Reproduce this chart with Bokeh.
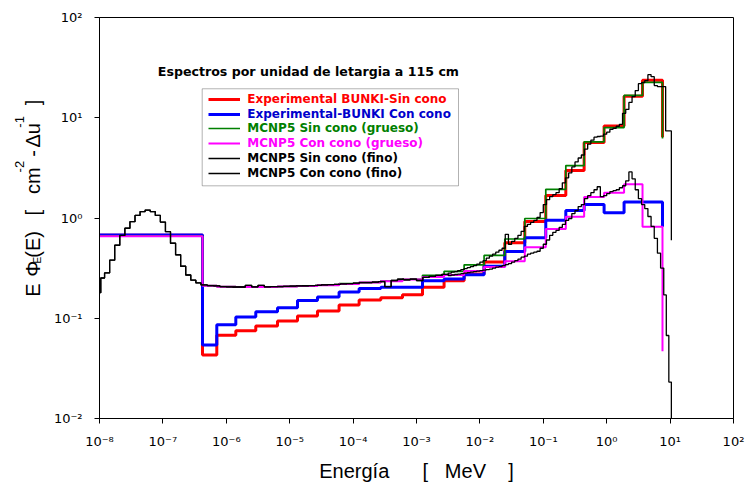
from bokeh.plotting import figure
from bokeh.layouts import row
from bokeh.models import (ColumnDataSource, Legend, LegendItem, Label, BoxAnnotation,
                          CustomJSTickFormatter, FixedTicker)
from bokeh.embed import file_html
from bokeh.resources import INLINE
import math

# ---------------- data ----------------
X_TICK_EXP = [-8, -7, -6, -5, -4, -3, -2, -1, 0, 1, 2]
X_TICK_LABELS = ["10⁻⁸", "10⁻⁷", "10⁻⁶", "10⁻⁵", "10⁻⁴", "10⁻³", "10⁻²", "10⁻¹", "10⁰", "10¹", "10²"]
Y_TICK_EXP = [-2, -1, 0, 1, 2]
Y_TICK_LABELS = ["10⁻²", "10⁻¹", "10⁰", "10¹", "10²"]

NB = "\u00a0"
X_TITLE = "Energía" + NB * 6 + "[" + NB * 3 + "MeV" + NB * 4 + "]"
TITLE = "Espectros por unidad de letargia a 115 cm"
LEGEND_LABELS = ["Experimental BUNKI-Sin cono", "Experimental-BUNKI Con cono",
                 "MCNP5 Sin cono (grueso)", "MCNP5 Con cono (grueso)",
                 "MCNP5 Sin cono (fino)", "MCNP5 Con cono (fino)"]

# coarse (BUNKI) group edges, log10(E / MeV)
COARSE_LOG_E = [-8.0, -6.375, -6.15, -5.85, -5.535, -5.192, -4.877, -4.562, -4.221, -3.905,
                -3.563, -3.221, -2.905, -2.565, -2.249, -1.934, -1.607, -1.292, -0.961,
                -0.645, -0.356, -0.041, 0.274, 0.565, 0.88]
RED = [0.671, 0.043, 0.0678, 0.0749, 0.0839, 0.094, 0.1054, 0.118, 0.1355, 0.1517, 0.16,
       0.172, 0.204, 0.237, 0.276, 0.363, 0.566, 0.923, 1.68, 2.97, 5.67, 8.28, 16.4, 23.6]
RED_END = 6.4
BLUE = [0.676, 0.054, 0.0859, 0.103, 0.116, 0.127, 0.150, 0.1625, 0.183, 0.198, 0.204,
        0.204, 0.237, 0.246, 0.272, 0.331, 0.463, 0.637, 0.951, 1.19, 1.36, 1.13, 1.445, 1.445]
BLUE_END = 0.818
GREEN = [0.665, 0.212, 0.207, 0.206, 0.206, 0.208, 0.211, 0.215, 0.221, 0.228, 0.236, 0.245,
         0.268, 0.294, 0.341, 0.423, 0.617, 0.989, 1.93, 3.33, 5.75, 7.98, 16.7, 22.5]
GREEN_END = 6.2
MAGENTA = [0.656, 0.211, 0.206, 0.205, 0.205, 0.207, 0.21, 0.214, 0.22, 0.227, 0.234, 0.243,
           0.258, 0.27, 0.296, 0.324, 0.371, 0.51, 0.778, 1.03, 1.62, 1.79, 2.17, 0.818]
MAGENTA_END = 0.0468

# fine bins shared by both fine MCNP5 spectra below 10^-2.5 MeV
FINE_LOW_LOG_E = [-8.0, -7.98, -7.92, -7.84, -7.76, -7.68, -7.60, -7.52, -7.44, -7.36, -7.28,
                  -7.20, -7.12, -7.04, -6.96, -6.88, -6.80, -6.72, -6.64, -6.56, -6.48, -6.40,
                  -6.3, -6.2, -6.1, -6.0, -5.9, -5.8, -5.7, -5.6, -5.5, -5.4, -5.3, -5.2, -5.1,
                  -5.0, -4.9, -4.8, -4.7, -4.6, -4.5, -4.4, -4.3, -4.2, -4.1, -4.0, -3.9, -3.8,
                  -3.7, -3.6, -3.5, -3.4, -3.3, -3.2, -3.1, -3.0, -2.9, -2.8, -2.7, -2.6, -2.5]
FINE_LOW = [0.18, 0.252, 0.283, 0.38, 0.535, 0.67, 0.79, 0.92, 1.06, 1.16, 1.2, 1.16, 1.06,
            0.91, 0.73, 0.56, 0.43, 0.33, 0.27, 0.24, 0.225,
            0.215, 0.212, 0.21, 0.207, 0.206, 0.205, 0.205, 0.213, 0.206, 0.213, 0.206, 0.207,
            0.207, 0.208, 0.209, 0.21, 0.211, 0.212, 0.213, 0.215, 0.216, 0.218, 0.22, 0.222,
            0.224, 0.227, 0.227, 0.229, 0.232, 0.207, 0.238, 0.245, 0.242, 0.246, 0.238,
            0.256, 0.262, 0.268, 0.274]
FINE_HIGH_LOG_E = [-2.45, -2.4, -2.35, -2.3, -2.25, -2.2, -2.15, -2.1, -2.05, -2.0, -1.95,
                   -1.9, -1.85, -1.8, -1.75, -1.7, -1.65, -1.6, -1.55, -1.5, -1.45, -1.4,
                   -1.35, -1.3, -1.25, -1.2, -1.15, -1.1, -1.05, -1.0, -0.95, -0.9, -0.85,
                   -0.8, -0.75, -0.7, -0.65, -0.6, -0.55, -0.5, -0.45, -0.4, -0.35, -0.3,
                   -0.25, -0.2, -0.15, -0.1, -0.05, 0.0, 0.05, 0.1, 0.15, 0.2, 0.25, 0.3,
                   0.35, 0.4, 0.45, 0.5, 0.55, 0.6, 0.65, 0.7, 0.75, 0.8, 0.85, 0.9]
SIN_FINE_HIGH = [0.2825, 0.289, 0.292, 0.299, 0.306, 0.313, 0.320, 0.3275, 0.335, 0.347,
                 0.363, 0.3755, 0.3975, 0.416, 0.4355, 0.4557, 0.477, 0.499, 0.687, 0.547,
                 0.5855, 0.627, 0.671, 0.735, 0.824, 0.862, 0.903, 0.945, 1.012, 1.133,
                 1.36, 1.524, 1.632, 1.708, 1.788, 1.958, 2.245, 2.515, 2.819, 3.232,
                 3.622, 3.967, 4.248, 4.869, 5.458, 5.976, 6.401, 6.504, 6.549, 6.853,
                 7.172, 7.68, 7.857, 8.222, 8.606, 11.06, 12.11, 14.21, 16.28, 18.67,
                 21.89, 22.4, 23.44, 26.87, 25.67, 20.92, 20.45, 20.45]
SIN_TAIL_LOG_E = [0.93, 1.02]
SIN_TAIL = [20.45, 7.39]
SIN_END = 0.6
CON_FINE_HIGH = [0.2668, 0.270, 0.273, 0.276, 0.279, 0.2825, 0.2857, 0.289, 0.292, 0.2955,
                 0.299, 0.3024, 0.306, 0.3094, 0.3165, 0.3239, 0.3275, 0.335, 0.3428, 0.3508,
                 0.363, 0.3755, 0.3886, 0.4068, 0.416, 0.4355, 0.4456, 0.4557, 0.4662, 0.499,
                 0.547, 0.6033, 0.671, 0.719, 0.752, 0.805, 0.862, 0.945, 0.989, 1.108,
                 1.186, 1.30, 1.36, 1.56, 1.67, 1.788, 1.914, 2.05, 1.632, 1.67,
                 1.748, 1.829, 1.872, 1.914, 2.003, 2.097, 2.35, 2.884, 2.459, 1.914,
                 1.56, 1.36, 1.242, 1.035, 0.824, 0.627, 0.4456, 0.3165]
CON_TAIL_LOG_E = [0.94, 0.98, 1.02]
CON_TAIL = [0.171, 0.0673, 0.0231]
CON_END = 0.005

# ---------------- layout constants (page pixels) ----------------
PAGE_W, PAGE_H = 747, 484
YT_W = 50                      # width of the strip holding the y title
FL, FT, FR, FB = 99, 17, 733, 422   # frame edges on the page
XMIN, XMAX, YMIN, YMAX = -8, 2, -2, 2
FONT = "Liberation Sans"
TICK_FONT = "DejaVu Sans"
BOLD_FONT = "DejaVu Sans"


def px_x(px):
    return 10 ** (XMIN + (px - FL) / (FR - FL) * (XMAX - XMIN))


def px_y(py):
    return 10 ** (YMAX - (py - FT) / (FB - FT) * (YMAX - YMIN))


def step_source(log_edges, values, end_value):
    xs, ys = [], []
    for i, v in enumerate(values):
        xs += [10 ** log_edges[i], 10 ** log_edges[i + 1]]
        ys += [v, v]
    xs.append(10 ** log_edges[-1])
    ys.append(end_value)
    return ColumnDataSource(dict(x=xs, y=ys))


PW = PAGE_W - YT_W
p = figure(width=PW, height=PAGE_H, x_axis_type="log", y_axis_type="log",
           x_range=(10 ** XMIN, 10 ** XMAX), y_range=(10 ** YMIN, 10 ** YMAX),
           output_backend="svg", toolbar_location=None,
           min_border_left=FL - YT_W, min_border_right=PAGE_W - FR,
           min_border_top=FT, min_border_bottom=PAGE_H - FB)
p.xgrid.visible = False
p.ygrid.visible = False
p.outline_line_color = "black"
p.outline_line_width = 1
p.background_fill_color = "white"
p.border_fill_color = "white"

p.xaxis.ticker = FixedTicker(ticks=[10.0 ** e for e in X_TICK_EXP], minor_ticks=[])
p.yaxis.ticker = FixedTicker(ticks=[10.0 ** e for e in Y_TICK_EXP], minor_ticks=[])
p.xaxis.formatter = CustomJSTickFormatter(args=dict(labels=X_TICK_LABELS, first=X_TICK_EXP[0]),
                                          code="return labels[Math.round(Math.log10(tick)) - first];")
p.yaxis.formatter = CustomJSTickFormatter(args=dict(labels=Y_TICK_LABELS, first=Y_TICK_EXP[0]),
                                          code="return labels[Math.round(Math.log10(tick)) - first];")
for ax in (p.xaxis[0], p.yaxis[0]):
    ax.axis_line_color = "black"
    ax.major_tick_line_color = "black"
    ax.major_tick_out = 5
    ax.major_tick_in = 0
    ax.minor_tick_line_color = None
    ax.major_label_text_font = TICK_FONT
    ax.major_label_text_font_size = "13px"
    ax.major_label_text_color = "black"
p.xaxis.major_label_standoff = 10
p.yaxis.major_label_standoff = 12
p.xaxis.axis_label = X_TITLE
p.xaxis.axis_label_text_font = FONT
p.xaxis.axis_label_text_font_size = "20px"
p.xaxis.axis_label_text_font_style = "normal"
p.xaxis.axis_label_text_color = "black"
p.xaxis.axis_label_standoff = 8

coarse = [(RED, RED_END, "#ff0000", 3.0), (BLUE, BLUE_END, "#0000ff", 3.0),
          (GREEN, GREEN_END, "#008000", 1.7), (MAGENTA, MAGENTA_END, "#ff00ff", 2.0)]
rends = []
for vals, end, col, lw in coarse:
    rends.append(p.line("x", "y", source=step_source(COARSE_LOG_E, vals, end),
                        line_color=col, line_width=lw))
sin_edges = FINE_LOW_LOG_E + FINE_HIGH_LOG_E + SIN_TAIL_LOG_E
sin_vals = FINE_LOW + SIN_FINE_HIGH + SIN_TAIL
con_edges = FINE_LOW_LOG_E + FINE_HIGH_LOG_E + CON_TAIL_LOG_E
con_vals = FINE_LOW + CON_FINE_HIGH + CON_TAIL
rends.append(p.line("x", "y", source=step_source(sin_edges, sin_vals, SIN_END),
                    line_color="black", line_width=1.3))
rends.append(p.line("x", "y", source=step_source(con_edges, con_vals, CON_END),
                    line_color="black", line_width=1.3))

# legend frame and one-row legends (each with its own text colour)
p.add_layout(BoxAnnotation(left=px_x(201.7), right=px_x(458), top=px_y(89), bottom=px_y(187),
                           fill_color="white", fill_alpha=1.0, line_color="black", line_width=1,
                           level="annotation"))
text_colors = ["#ff0000", "#0000cc", "#008000", "#ff00ff", "black", "black"]
for i, (r, lab, tc) in enumerate(zip(rends, LEGEND_LABELS, text_colors)):
    center = 102.7 + 14.8 * i
    leg = Legend(items=[LegendItem(label=lab, renderers=[r])],
                 location=(208.3 - FL, FB - (center + 7)),
                 glyph_width=32, glyph_height=14, label_height=14, label_standoff=7,
                 padding=0, spacing=0, margin=0, border_line_color=None,
                 background_fill_alpha=0.0, label_text_font=BOLD_FONT,
                 label_text_font_size="12px", label_text_font_style="bold",
                 label_text_color=tc)
    p.add_layout(leg)

p.add_layout(Label(x=px_x(157.3), y=px_y(71.7), text=TITLE, text_font=BOLD_FONT,
                   text_font_size="12.6px", text_font_style="bold", text_color="black",
                   text_align="left", text_baseline="alphabetic"))

# ---------------- y title strip (composite text with sub/superscripts) ----------------
yt = figure(width=YT_W, height=PAGE_H, x_range=(0, YT_W), y_range=(0, PAGE_H),
            x_axis_type=None, y_axis_type=None, output_backend="svg",
            toolbar_location=None, min_border=0)
yt.outline_line_color = None
yt.background_fill_color = "white"
yt.border_fill_color = "white"
# pieces: text, baseline x (page), start y (page, text runs upward), font size
ylab = [("E", 32, 337, 20), ("Φ", 32, 313, 20), ("E", 36.5, 297, 10), ("(E)", 32, 290, 20),
        ("[", 32, 239, 20), ("cm", 32, 213, 20), ("-2", 19, 187, 13), ("-", 32, 168, 20),
        ("Δu", 32, 157, 20), ("-1", 19, 133, 13), ("]", 32, 106, 20)]
for txt, bx, sy, fs in ylab:
    yt.add_layout(Label(x=bx, y=PAGE_H - sy, text=txt, text_font=FONT,
                        text_font_size=f"{fs}px", text_color="black", angle=math.pi / 2,
                        text_align="left", text_baseline="alphabetic"))

open("out.html", "w").write(file_html(row(yt, p), INLINE))
